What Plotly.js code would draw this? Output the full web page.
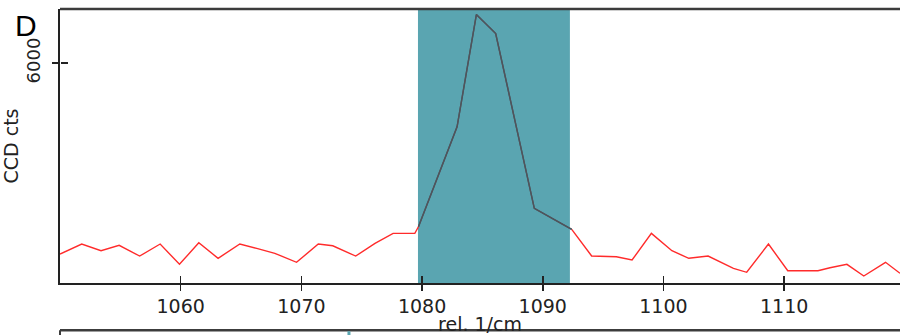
<!DOCTYPE html>
<html>
<head>
<meta charset="utf-8">
<script src="https://cdn.plot.ly/plotly-3.0.1.min.js"></script>
<style>
html,body{margin:0;padding:0;background:#fff;}
#chart{width:900px;height:335px;}
</style>
</head>
<body>
<div id="chart"></div>
<script>
// Raman shift (rel. 1/cm) and CCD counts
const shiftLeft = [1050.0, 1051.8, 1053.4, 1054.9, 1056.6, 1058.3, 1059.9, 1061.5, 1063.1, 1064.9,
                   1066.3, 1067.8, 1069.6, 1071.4, 1072.6, 1074.5, 1076.1, 1077.6, 1079.4, 1079.7];
const countsLeft = [790, 1064, 881, 1028, 736, 1064, 510, 1099, 674, 1064,
                    946, 810, 565, 1064, 1017, 736, 1083, 1355, 1355, 1535];

const shiftPeak = [1079.7, 1082.9, 1084.5, 1086.1, 1089.3, 1092.4];
const countsPeak = [1535, 4263, 7327, 6809, 2037, 1464];

const shiftRight = [1092.4, 1094.05, 1096.1, 1097.4, 1099.0, 1100.7, 1102.1, 1103.7, 1105.8, 1106.9,
                    1108.7, 1110.3, 1112.8, 1113.8, 1115.2, 1116.6, 1118.4, 1119.6];
const countsRight = [1464, 736, 717, 627, 1355, 881, 674, 736, 401, 292,
                     1064, 335, 335, 417, 510, 191, 565, 265];

const highlightRange = [1079.66, 1092.25];
const xTickVals = [1060, 1070, 1080, 1090, 1100, 1110];
const xTickText = ['1060', '1070', '1080', '1090', '1100', '1110'];
const yTickVals = [6000];
const yTickText = ['6000'];
const xRange = [1050, 1119.6];
const yRange = [0, 7480];

const red = '#ff2b2b';
const gray = '#4f545c';
const teal = '#5aa5b1';
const axisCol = '#222222';
const fontFam = 'DejaVu Sans, sans-serif';

const traces = [
  {x: shiftLeft, y: countsLeft, type: 'scatter', mode: 'lines', line: {color: red, width: 1.4}, hoverinfo: 'skip'},
  {x: shiftRight, y: countsRight, type: 'scatter', mode: 'lines', line: {color: red, width: 1.4}, hoverinfo: 'skip'},
  {x: shiftPeak, y: countsPeak, type: 'scatter', mode: 'lines', line: {color: gray, width: 1.4}, hoverinfo: 'skip'},
  // same peak segment drawn again on the companion axes so that they get rendered
  {x: shiftPeak, y: countsPeak, type: 'scatter', mode: 'lines', line: {color: gray, width: 1.4},
   xaxis: 'x2', yaxis: 'y2', hoverinfo: 'skip'}
];

const layout = {
  width: 900, height: 335,
  margin: {l: 60, r: 0, t: 9, b: 52, pad: 0},
  paper_bgcolor: '#ffffff', plot_bgcolor: '#ffffff',
  showlegend: false,
  font: {family: fontFam, color: '#222', size: 19},
  xaxis: {
    range: xRange, showgrid: false, zeroline: false,
    showline: true, linecolor: axisCol, linewidth: 1.6,
    ticks: 'outside', ticklen: 6, tickwidth: 1.6, tickcolor: axisCol,
    tickvals: xTickVals, ticktext: xTickText,
    tickfont: {family: fontFam, size: 19, color: '#222'},
    title: {text: 'rel. 1/cm', font: {family: fontFam, size: 19, color: '#222'}, standoff: 0}
  },
  // companion axis on the bottom edge, "top" side, so its outside ticks point up into the plot
  xaxis2: {
    range: xRange, overlaying: 'x', side: 'top', anchor: 'free', position: 0,
    showgrid: false, zeroline: false,
    showline: true, linecolor: axisCol, linewidth: 1.6,
    ticks: 'outside', ticklen: 7, tickwidth: 1.6, tickcolor: axisCol,
    tickvals: xTickVals, showticklabels: false
  },
  yaxis: {
    range: yRange, showgrid: false, zeroline: false,
    showline: true, linecolor: axisCol, linewidth: 1.8,
    ticks: 'outside', ticklen: 6, tickwidth: 1.5, tickcolor: axisCol,
    tickvals: yTickVals, ticktext: yTickText, tickangle: -90,
    ticklabelstandoff: 5,
    tickfont: {family: fontFam, size: 18, color: '#222'},
    title: {text: 'CCD cts', font: {family: fontFam, size: 19, color: '#222'}, standoff: 0}
  },
  yaxis2: {
    range: yRange, overlaying: 'y', side: 'right', anchor: 'free', position: 0,
    showgrid: false, zeroline: false, showline: false,
    ticks: 'outside', ticklen: 7, tickwidth: 1.5, tickcolor: axisCol,
    tickvals: yTickVals, showticklabels: false
  },
  shapes: [
    {type: 'rect', xref: 'x', yref: 'paper', x0: highlightRange[0], x1: highlightRange[1], y0: 0, y1: 1,
     fillcolor: teal, line: {width: 0}, layer: 'below'},
    {type: 'line', xref: 'paper', yref: 'paper', x0: 0, x1: 1, y0: 1, y1: 1,
     line: {color: '#3c3c3c', width: 2.5}},
    {type: 'line', xref: 'paper', yref: 'paper', x0: 0, x1: 1.01, y0: -0.172, y1: -0.172,
     line: {color: '#3c3c3c', width: 2.5}},
    {type: 'line', xref: 'paper', yref: 'paper', x0: 0, x1: 0, y0: -0.172, y1: -0.2,
     line: {color: '#3c3c3c', width: 2}},
    {type: 'line', xref: 'paper', yref: 'paper', x0: 0.344, x1: 0.344, y0: -0.176, y1: -0.2,
     line: {color: teal, width: 3}}
  ],
  annotations: [
    {text: 'D', xref: 'paper', yref: 'paper', x: -0.0405, y: 0.938, xanchor: 'center', yanchor: 'middle',
     showarrow: false, font: {family: 'Liberation Sans, Arial, sans-serif', size: 30, color: '#000'}}
  ]
};

Plotly.newPlot('chart', traces, layout, {displayModeBar: false, staticPlot: true});
</script>
</body>
</html>
